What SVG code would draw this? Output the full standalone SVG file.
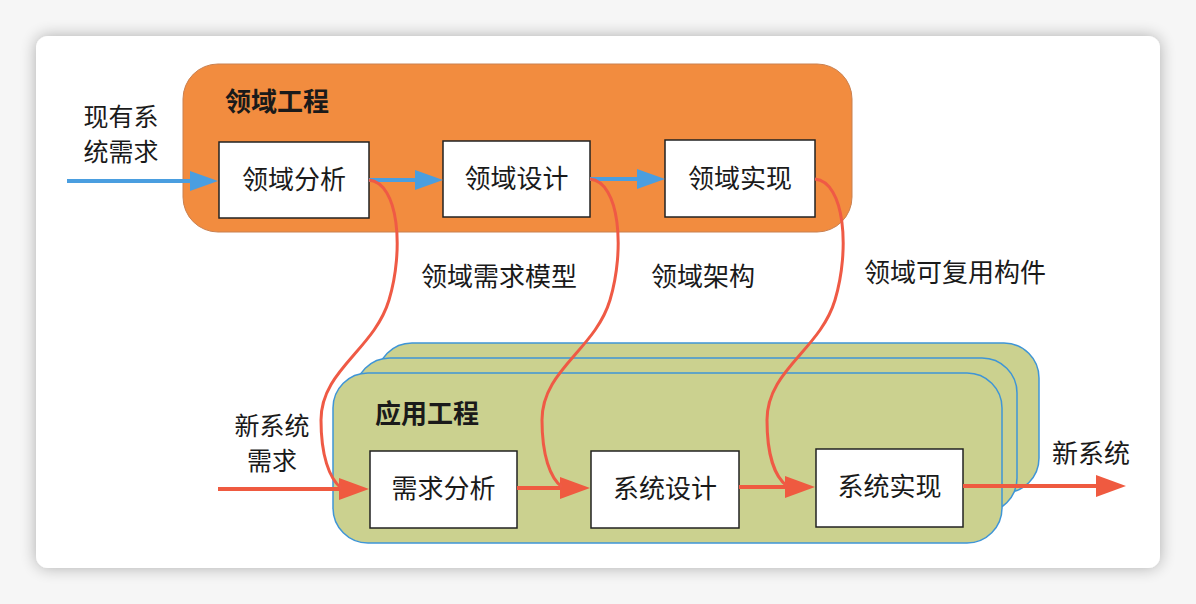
<svg xmlns="http://www.w3.org/2000/svg" width="1196" height="604" viewBox="0 0 1196 604">
<style>
.t{font-family:"Noto Sans CJK SC","Noto Sans",sans-serif;font-size:26px;fill:#1a1a1a}
.s{font-size:25px}
.b{font-weight:bold}
.box{fill:#fff;stroke:#222;stroke-width:1.5}
.blue{stroke:#4a9ee0;stroke-width:4;fill:none}
.red{stroke:#ef5a40;stroke-width:4;fill:none}
.curve{stroke:#ef5a45;stroke-width:3;fill:none}
.app{fill:#cbd18f;stroke:#3f95d6;stroke-width:1.5}
</style>
<defs>
<filter id="sh" x="-5%" y="-5%" width="110%" height="110%">
<feGaussianBlur in="SourceAlpha" stdDeviation="8"/>
<feComponentTransfer><feFuncA type="linear" slope="0.3"/></feComponentTransfer>
<feMerge><feMergeNode/><feMergeNode in="SourceGraphic"/></feMerge>
</filter>
<marker id="ab" markerUnits="userSpaceOnUse" markerWidth="28" markerHeight="20" refX="20" refY="10" orient="auto"><path d="M0,0 L28,10 L0,20 z" fill="#4a9ee0"/></marker>
<marker id="ar" markerUnits="userSpaceOnUse" markerWidth="30" markerHeight="22" refX="22" refY="11" orient="auto"><path d="M0,0 L30,11 L0,22 z" fill="#ef5a40"/></marker>
</defs>
<rect width="1196" height="604" fill="#f6f6f6"/>
<rect x="36" y="36" width="1124" height="532" rx="12" fill="#fff" filter="url(#sh)"/>

<g id="domain-engineering">
<rect x="183" y="64" width="669" height="168" rx="35" fill="#f28c3f" stroke="#c98050" stroke-width="1"/>
<text class="t b" x="225" y="111">领域工程</text>
</g>
<g id="app-engineering">
<rect class="app" x="377" y="343" width="662" height="150" rx="35"/>
<rect class="app" x="355" y="358" width="662" height="155" rx="35"/>
<rect class="app" x="333" y="373" width="669" height="170" rx="35"/>
<text class="t b" x="375" y="423">应用工程</text>
</g>

<g id="input-existing"><text class="t s" text-anchor="middle"><tspan x="121" y="126">现有系</tspan><tspan x="121" y="161">统需求</tspan></text></g>
<g id="input-new"><text class="t s" text-anchor="middle"><tspan x="272" y="435">新系统</tspan><tspan x="272" y="470">需求</tspan></text></g>
<g id="output-new"><text class="t" x="1091" y="463" text-anchor="middle">新系统</text></g>

<g id="domain-analysis"><rect class="box" x="219" y="142" width="150" height="76"/><text class="t" x="294" y="189" text-anchor="middle">领域分析</text></g>
<g id="domain-design"><rect class="box" x="443" y="141" width="147" height="76"/><text class="t" x="516.5" y="188" text-anchor="middle">领域设计</text></g>
<g id="domain-impl"><rect class="box" x="665" y="140" width="150" height="77"/><text class="t" x="740" y="188" text-anchor="middle">领域实现</text></g>

<g id="req-analysis"><rect class="box" x="370" y="451" width="147" height="77"/><text class="t" x="443.5" y="498" text-anchor="middle">需求分析</text></g>
<g id="sys-design"><rect class="box" x="591" y="451" width="148" height="77"/><text class="t" x="665" y="498" text-anchor="middle">系统设计</text></g>
<g id="sys-impl"><rect class="box" x="816" y="449" width="147" height="78"/><text class="t" x="889.5" y="496" text-anchor="middle">系统实现</text></g>

<g id="labels">
<text class="t" x="499" y="286" text-anchor="middle">领域需求模型</text>
<text class="t" x="703" y="286" text-anchor="middle">领域架构</text>
<text class="t" x="955" y="282" text-anchor="middle">领域可复用构件</text>
</g>

<g id="connectors">
<line class="blue" x1="67" y1="181" x2="210" y2="181" marker-end="url(#ab)"/>
<line class="blue" x1="369" y1="180" x2="435" y2="180" marker-end="url(#ab)"/>
<line class="blue" x1="590" y1="179" x2="657" y2="179" marker-end="url(#ab)"/>
<line class="red" x1="218" y1="489" x2="361" y2="489" marker-end="url(#ar)"/>
<line class="red" x1="517" y1="488" x2="582" y2="488" marker-end="url(#ar)"/>
<line class="red" x1="739" y1="487" x2="807" y2="487" marker-end="url(#ar)"/>
<line class="red" x1="963" y1="486" x2="1118" y2="486" marker-end="url(#ar)"/>
<path class="curve" d="M369,180 C399,183 404,250 389,300 C374,350 321,370 321,420 C321,455 329,478 341,488"/>
<path class="curve" d="M590,179 C620,182 625,250 610,300 C595,350 542,370 542,420 C542,455 550,478 562,487"/>
<path class="curve" d="M815,179 C845,182 850,250 835,300 C820,350 767,370 767,420 C767,455 775,477 787,486"/>
</g>
</svg>
